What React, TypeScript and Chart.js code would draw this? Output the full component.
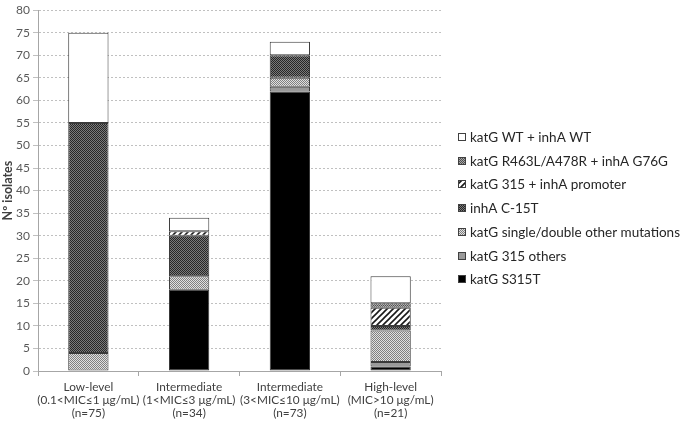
import React, { useEffect, useRef } from 'react';
import { Chart, registerables } from 'chart.js';

Chart.register(...registerables);

const categories: string[][] = [
  ['Low-level', '(0.1<MIC≤1 μg/mL)', '(n=75)'],
  ['Intermediate', '(1<MIC≤3 μg/mL)', '(n=34)'],
  ['Intermediate', '(3<MIC≤10 μg/mL)', '(n=73)'],
  ['High-level', '(MIC>10 μg/mL)', '(n=21)'],
];

const katG_S315T = [0, 18, 62, 1];
const katG_315_others = [0, 0, 1, 1];
const katG_single_double = [4, 3, 2, 7];
const inhA_C15T = [51, 9, 5, 1];
const katG_315_inhA_promoter = [0, 1, 0, 4];
const katG_R463L_inhA_G76G = [0, 0, 0, 1];
const katG_WT_inhA_WT = [20, 3, 3, 6];

const yTicks = { min: 0, max: 80, step: 5 };

function checker(a: string, b: string): CanvasPattern | string {
  const c = document.createElement('canvas');
  c.width = 2;
  c.height = 2;
  const g = c.getContext('2d');
  if (!g) return a;
  g.fillStyle = a;
  g.fillRect(0, 0, 2, 2);
  g.fillStyle = b;
  g.fillRect(0, 0, 1, 1);
  g.fillRect(1, 1, 1, 1);
  return g.createPattern(c, 'repeat') || a;
}

function hatch(): CanvasPattern | string {
  const s = 6;
  const c = document.createElement('canvas');
  c.width = s;
  c.height = s;
  const g = c.getContext('2d');
  if (!g) return '#888';
  g.fillStyle = '#ffffff';
  g.fillRect(0, 0, s, s);
  g.strokeStyle = '#1a1a1a';
  g.lineWidth = 1.6;
  g.beginPath();
  g.moveTo(-1, s + 1);
  g.lineTo(s + 1, -1);
  g.moveTo(-s / 2 - 1, s / 2 + 1);
  g.lineTo(s / 2 + 1, -s / 2 - 1);
  g.moveTo(s / 2 - 1, s * 1.5 + 1);
  g.lineTo(s * 1.5 + 1, s / 2 - 1);
  g.stroke();
  return g.createPattern(c, 'repeat') || '#888';
}

const sideLegend = {
  id: 'sideLegend',
  afterDraw(chart: any) {
    const ctx = chart.ctx as CanvasRenderingContext2D;
    const ds = chart.data.datasets;
    const x = chart.chartArea.right + 17;
    const y0 = 137;
    const step = 23.7;
    ctx.save();
    ctx.font = '13.5px Lato';
    ctx.textBaseline = 'middle';
    ctx.textAlign = 'left';
    for (let i = 0; i < ds.length; i++) {
      const d = ds[ds.length - 1 - i];
      const y = Math.round(y0 + i * step);
      ctx.fillStyle = d.backgroundColor;
      ctx.fillRect(x, y - 4, 8, 8);
      ctx.strokeStyle = '#404040';
      ctx.lineWidth = 1;
      ctx.strokeRect(x + 0.5, y - 3.5, 7, 7);
      ctx.fillStyle = '#262626';
      ctx.fillText(d.label, x + 12, y + 0.5);
    }
    ctx.restore();
  },
};

export default function App() {
  const ref = useRef<HTMLCanvasElement>(null);

  useEffect(() => {
    if (!ref.current) return;
    const border = '#3a3a3a';
    const mk = (label: string, data: number[], bg: any) => ({
      label,
      data,
      backgroundColor: bg,
      borderColor: border,
      borderWidth: 1,
      borderSkipped: false,
      barPercentage: 0.4,
      categoryPercentage: 1,
    });
    const chart = new Chart(ref.current, {
      type: 'bar',
      data: {
        labels: categories,
        datasets: [
          mk('katG S315T', katG_S315T, '#000000'),
          mk('katG 315 others', katG_315_others, '#9a9a9a'),
          mk('katG single/double other mutations', katG_single_double, checker('#e0e0e0', '#808080')),
          mk('inhA C-15T', inhA_C15T, checker('#7a7a7a', '#262626')),
          mk('katG 315 + inhA promoter', katG_315_inhA_promoter, hatch()),
          mk('katG R463L/A478R + inhA G76G', katG_R463L_inhA_G76G, checker('#a8a8a8', '#505050')),
          mk('katG WT + inhA WT', katG_WT_inhA_WT, '#ffffff'),
        ],
      },
      plugins: [sideLegend],
      options: {
        responsive: false,
        animation: false,
        layout: { padding: { left: 0, top: 3, right: 244, bottom: 0 } },
        plugins: {
          legend: { display: false },
          tooltip: { enabled: false },
        },
        scales: {
          x: {
            stacked: true,
            afterFit: (s: any) => {
              s.height = 50;
            },
            grid: {
              display: true,
              drawOnChartArea: false,
              drawTicks: true,
              tickLength: 5,
              color: '#a6a6a6',
              offset: true,
            },
            border: { display: true, color: '#a6a6a6', width: 1 },
            ticks: {
              color: '#404040',
              padding: 4,
              maxRotation: 0,
              autoSkip: false,
              font: { family: 'Lato', size: 11.8, lineHeight: 1.14 },
            },
          },
          y: {
            stacked: true,
            min: yTicks.min,
            max: yTicks.max,
            afterFit: (s: any) => {
              s.width = 38;
            },
            grid: {
              color: '#c0c0c0',
              tickLength: 5,
              lineWidth: 1,
            },
            border: { display: true, color: '#a6a6a6', width: 1, dash: [2, 2] },
            ticks: {
              stepSize: yTicks.step,
              color: '#595959',
              padding: 3,
              font: { family: 'Lato', size: 12 },
            },
            title: {
              display: true,
              text: 'Nº isolates',
              color: '#404040',
              padding: { top: 0, bottom: 0 },
              font: { family: 'Lato', size: 12.5, weight: 'bold' },
            },
          },
        },
      },
    });
    return () => chart.destroy();
  }, []);

  return (
    <div style={{ position: 'absolute', left: 0, top: 0, width: 685, height: 421, background: '#ffffff' }}>
      <canvas ref={ref} width={685} height={421} style={{ display: 'block' }} />
    </div>
  );
}
